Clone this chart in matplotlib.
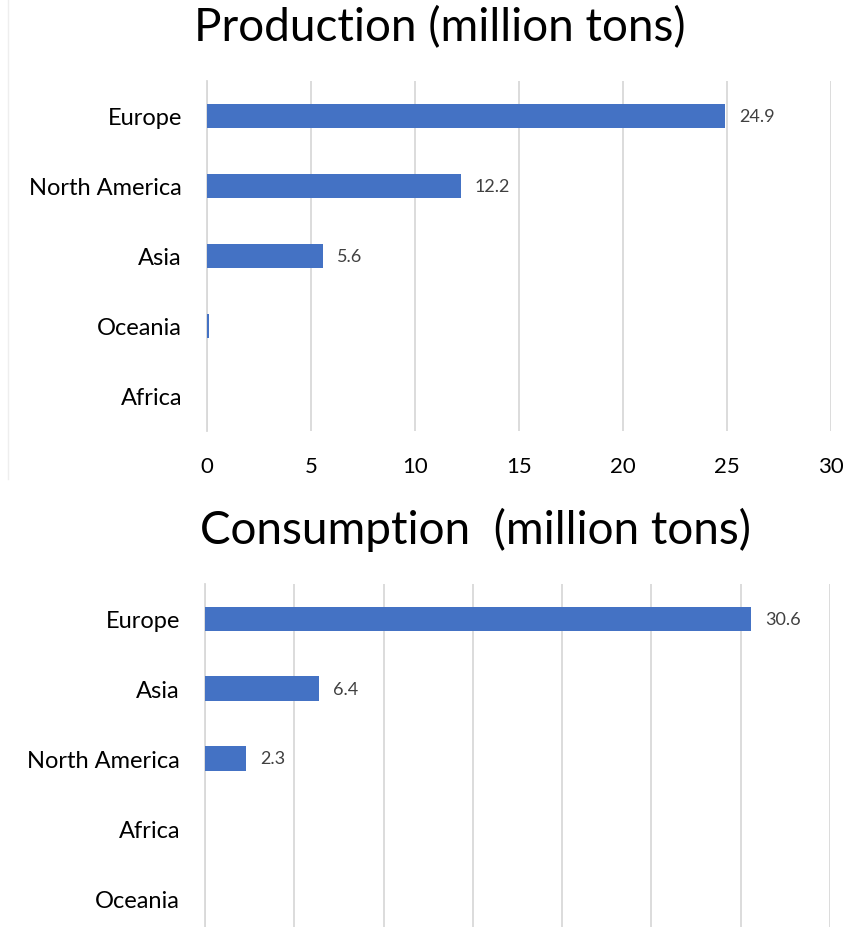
import numpy as np
import matplotlib.pyplot as plt

plt.rcParams['font.family'] = ['Lato', 'DejaVu Sans']

# Production (million tons)
prod_regions = ['Europe', 'North America', 'Asia', 'Oceania', 'Africa']
prod_values = [24.9, 12.2, 5.6, 0.1, 0.02]

# Consumption (million tons)
cons_regions = ['Europe', 'Asia', 'North America', 'Africa', 'Oceania']
cons_values = [30.6, 6.4, 2.3, 0.02, 0.02]

bar_color = '#4472C4'
grid_color = '#d9d9d9'

fig = plt.figure(figsize=(8.58, 9.28), dpi=100)

def draw_panel(ax, regions, values, xmax, labels_shown):
    y = np.arange(len(regions))
    ax.barh(y, values, height=0.35, color=bar_color, zorder=3)
    for yi, v in zip(y, values):
        if v >= 1:
            ax.annotate(str(v), (v, yi), xytext=(10, 0), textcoords='offset points',
                        va='center', ha='left', fontsize=13, color='#404040')
    ax.set_yticks(y)
    ax.set_yticklabels(regions, fontsize=17)
    ax.set_ylim(len(regions) - 0.5, -0.5)
    ax.set_xlim(0, xmax)
    ax.set_xticks(np.arange(0, xmax + 1, 5))
    ax.xaxis.grid(True, color=grid_color, linewidth=1.3, zorder=0)
    ax.tick_params(axis='both', length=0)
    ax.tick_params(axis='y', pad=18)
    if not labels_shown:
        ax.set_xticklabels([])
    else:
        ax.tick_params(axis='x', labelsize=16, pad=18)
    for s in ['top', 'right', 'bottom']:
        ax.spines[s].set_visible(False)
    ax.spines['left'].set_color(grid_color)
    ax.spines['left'].set_linewidth(1.3)

ax1 = fig.add_axes([207 / 858, 1 - 432 / 928, 624 / 858, 350 / 928])
draw_panel(ax1, prod_regions, prod_values, 30, True)

ax2 = fig.add_axes([205 / 858, 1 - 934 / 928, 625 / 858, 349 / 928])
draw_panel(ax2, cons_regions, cons_values, 35, False)

fig.text(440 / 858, 1 - 28 / 928, 'Production (million tons)', ha='center',
         va='center', fontsize=33)
fig.text(476 / 858, 1 - 530 / 928, 'Consumption  (million tons)', ha='center',
         va='center', fontsize=33)

# faint chart border on the left of the top panel
fig.add_artist(plt.Line2D([8 / 858, 8 / 858], [1 - 480 / 928, 1], color='#eeeeee',
                          linewidth=1, transform=fig.transFigure))

fig.savefig('out.png', dpi=100)
